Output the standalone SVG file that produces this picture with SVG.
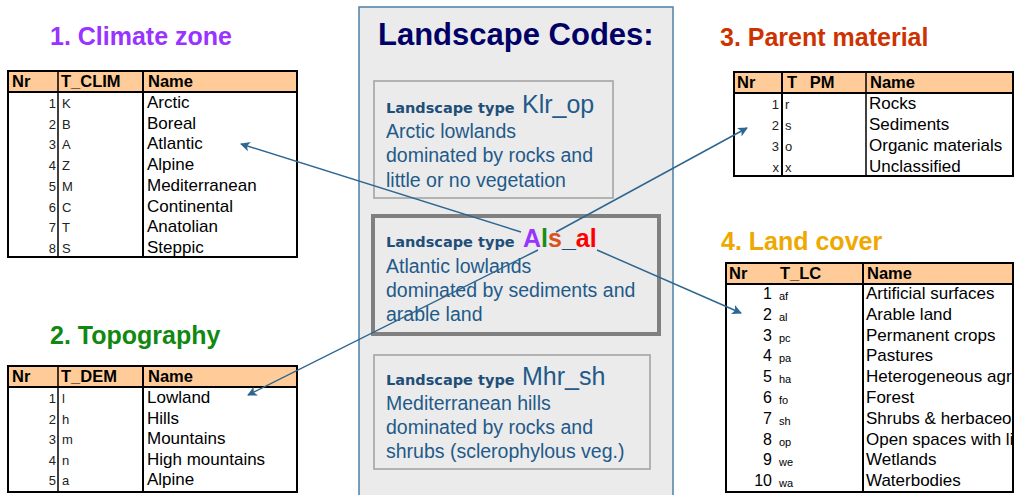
<svg xmlns="http://www.w3.org/2000/svg" width="1019" height="495" viewBox="0 0 1019 495">
<style>
.title{font-family:"Liberation Sans",Arial,sans-serif;font-weight:bold;font-size:25px}
.hdr{font-family:"Liberation Sans",Arial,sans-serif;font-weight:bold;font-size:16.5px;fill:#000}
.nm{font-family:"Liberation Sans",Arial,sans-serif;font-size:17px;fill:#000}
.sm{font-family:"Liberation Sans",Arial,sans-serif;font-size:13px;fill:#222}
.num{font-family:"Liberation Sans",Arial,sans-serif;font-size:13px;fill:#222;text-anchor:end}
.lnum{font-family:"Liberation Sans",Arial,sans-serif;font-size:16px;fill:#000;text-anchor:end}
.lcode{font-family:"Liberation Sans",Arial,sans-serif;font-size:11px;fill:#000}
.hfill{fill:#FFCC99}
.thick{stroke:#000;stroke-width:2;fill:none}
.thin{stroke:#000;stroke-width:1;fill:none}
.lt{font-family:"DejaVu Sans",Verdana,sans-serif;font-weight:bold;font-size:14.5px;fill:#1F4E79}
.code{font-family:"Liberation Sans",Arial,sans-serif;font-size:25px;fill:#1F5A8A}
.body{font-family:"Liberation Sans",Arial,sans-serif;font-size:19.5px;fill:#1F5A8A}
.box{fill:#EBEBEB;stroke:#A0A0A0;stroke-width:1.5}
.conn{stroke:#2D6690;stroke-width:1.5;fill:none;marker-end:url(#ah)}
</style>
<defs>
<marker id="ah" viewBox="0 0 10 10" refX="9" refY="5" markerWidth="6.5" markerHeight="6.5" orient="auto" markerUnits="strokeWidth">
<path d="M0,0 L10,5 L0,10 L2.5,5 Z" fill="#2D6690"/>
</marker>
<clipPath id="lcclip"><rect x="0" y="0" width="1014" height="495"/></clipPath>
</defs>
<rect width="1019" height="495" fill="#FFFFFF"/>

<g id="panel">
<rect x="359" y="7" width="314" height="500" fill="#EBEBEB" stroke="#4F80A6" stroke-width="1.5"/>
<text x="378" y="45" font-family="Liberation Sans,Arial,sans-serif" font-weight="bold" font-size="31" fill="#000066">Landscape Codes:</text>
</g>

<g id="box-klr">
<rect class="box" x="374" y="81" width="239" height="117"/>
<text class="lt" x="386" y="113">Landscape type</text>
<text class="code" x="522" y="113">Klr_op</text>
<text class="body" x="386" y="138">Arctic lowlands</text>
<text class="body" x="386" y="162">dominated by rocks and</text>
<text class="body" x="386" y="187">little or no vegetation</text>
</g>

<g id="box-als">
<rect x="373" y="216" width="286" height="118" fill="#EBEBEB" stroke="#808080" stroke-width="4"/>
<text class="lt" x="386" y="247">Landscape type</text>
<text x="523" y="247" font-family="Liberation Sans,Arial,sans-serif" font-weight="bold" font-size="25"><tspan fill="#9933FF">A</tspan><tspan fill="#1A8C1A">l</tspan><tspan fill="#D9531E">s</tspan><tspan fill="#1F4E79">_</tspan><tspan fill="#FF0000">al</tspan></text>
<text class="body" x="386" y="273">Atlantic lowlands</text>
<text class="body" x="386" y="297">dominated by sediments and</text>
<text class="body" x="386" y="321">arable land</text>
</g>

<g id="box-mhr">
<rect class="box" x="374" y="355" width="276" height="114"/>
<text class="lt" x="386" y="385">Landscape type</text>
<text class="code" x="522" y="385">Mhr_sh</text>
<text class="body" x="386" y="410">Mediterranean hills</text>
<text class="body" x="386" y="434">dominated by rocks and</text>
<text class="body" x="386" y="458">shrubs (sclerophylous veg.)</text>
</g>

<g id="climate">
<text class="title" x="50" y="45" fill="#9933FF">1. Climate zone</text>
<rect class="hfill" x="8" y="71" width="289" height="21"/>
<line class="thin" x1="297" y1="70" x2="297" y2="257"/>
<rect class="thick" x="8" y="71" width="289" height="186"/>
<line class="thick" x1="8" y1="92" x2="297" y2="92"/>
<line x1="58" y1="71" x2="58" y2="257" stroke="#000" stroke-width="1.5"/>
<line class="thick" x1="143" y1="71" x2="143" y2="257"/>
<text class="hdr" x="12" y="87">Nr</text>
<text class="hdr" x="61" y="87">T_CLIM</text>
<text class="hdr" x="148" y="87">Name</text>
<text class="num" x="56" y="108">1</text><text class="sm" x="62" y="108">K</text><text class="nm" x="147" y="108">Arctic</text>
<text class="num" x="56" y="128.7">2</text><text class="sm" x="62" y="128.7">B</text><text class="nm" x="147" y="128.7">Boreal</text>
<text class="num" x="56" y="149.4">3</text><text class="sm" x="62" y="149.4">A</text><text class="nm" x="147" y="149.4">Atlantic</text>
<text class="num" x="56" y="170.1">4</text><text class="sm" x="62" y="170.1">Z</text><text class="nm" x="147" y="170.1">Alpine</text>
<text class="num" x="56" y="190.8">5</text><text class="sm" x="62" y="190.8">M</text><text class="nm" x="147" y="190.8">Mediterranean</text>
<text class="num" x="56" y="211.5">6</text><text class="sm" x="62" y="211.5">C</text><text class="nm" x="147" y="211.5">Continental</text>
<text class="num" x="56" y="232.2">7</text><text class="sm" x="62" y="232.2">T</text><text class="nm" x="147" y="232.2">Anatolian</text>
<text class="num" x="56" y="252.9">8</text><text class="sm" x="62" y="252.9">S</text><text class="nm" x="147" y="252.9">Steppic</text>
</g>

<g id="topography">
<text class="title" x="50" y="344" fill="#118811">2. Topography</text>
<rect class="hfill" x="8" y="366" width="289" height="21"/>
<rect class="thick" x="8" y="366" width="289" height="126"/>
<line class="thick" x1="8" y1="387" x2="297" y2="387"/>
<line x1="58" y1="366" x2="58" y2="492" stroke="#000" stroke-width="1.5"/>
<line class="thick" x1="143" y1="366" x2="143" y2="492"/>
<text class="hdr" x="12" y="382">Nr</text>
<text class="hdr" x="61" y="382">T_DEM</text>
<text class="hdr" x="148" y="382">Name</text>
<text class="num" x="56" y="403">1</text><text class="sm" x="62" y="403">l</text><text class="nm" x="147" y="403">Lowland</text>
<text class="num" x="56" y="423.5">2</text><text class="sm" x="62" y="423.5">h</text><text class="nm" x="147" y="423.5">Hills</text>
<text class="num" x="56" y="444">3</text><text class="sm" x="62" y="444">m</text><text class="nm" x="147" y="444">Mountains</text>
<text class="num" x="56" y="464.5">4</text><text class="sm" x="62" y="464.5">n</text><text class="nm" x="147" y="464.5">High mountains</text>
<text class="num" x="56" y="485">5</text><text class="sm" x="62" y="485">a</text><text class="nm" x="147" y="485">Alpine</text>
</g>

<g id="parent-material">
<text class="title" x="720" y="46" fill="#CC3300">3. Parent material</text>
<rect class="hfill" x="734" y="72" width="279" height="21"/>
<rect class="thick" x="734" y="72" width="279" height="104"/>
<line class="thick" x1="734" y1="93" x2="1013" y2="93"/>
<line class="thick" x1="782" y1="72" x2="782" y2="176"/>
<line x1="866" y1="72" x2="866" y2="176" stroke="#000" stroke-width="1.5"/>
<text class="hdr" x="737" y="88">Nr</text>
<text class="hdr" x="787" y="88" word-spacing="8">T PM</text>
<text class="hdr" x="870" y="88">Name</text>
<text class="num" x="779" y="109">1</text><text class="sm" x="785" y="109">r</text><text class="nm" x="869" y="109">Rocks</text>
<text class="num" x="779" y="130">2</text><text class="sm" x="785" y="130">s</text><text class="nm" x="869" y="130">Sediments</text>
<text class="num" x="779" y="151">3</text><text class="sm" x="785" y="151">o</text><text class="nm" x="869" y="151">Organic materials</text>
<text class="num" x="779" y="172">x</text><text class="sm" x="785" y="172">x</text><text class="nm" x="869" y="172">Unclassified</text>
</g>

<g id="land-cover">
<text class="title" x="721" y="250" fill="#EEA800">4. Land cover</text>
<rect class="hfill" x="726" y="263" width="287" height="21"/>
<rect class="thick" x="726" y="263" width="287" height="229"/>
<line class="thick" x1="726" y1="284" x2="1013" y2="284"/>
<line class="thick" x1="863" y1="263" x2="863" y2="492"/>
<text class="hdr" x="729" y="279">Nr</text>
<text class="hdr" x="780" y="279">T_LC</text>
<text class="hdr" x="867" y="279">Name</text>
<g clip-path="url(#lcclip)">
<text class="lnum" x="772" y="299">1</text><text class="lcode" x="779" y="300">af</text><text class="nm" x="866" y="299">Artificial surfaces</text>
<text class="lnum" x="772" y="319.8">2</text><text class="lcode" x="779" y="320.8">al</text><text class="nm" x="866" y="319.8">Arable land</text>
<text class="lnum" x="772" y="340.6">3</text><text class="lcode" x="779" y="341.6">pc</text><text class="nm" x="866" y="340.6">Permanent crops</text>
<text class="lnum" x="772" y="361.4">4</text><text class="lcode" x="779" y="362.4">pa</text><text class="nm" x="866" y="361.4">Pastures</text>
<text class="lnum" x="772" y="382.2">5</text><text class="lcode" x="779" y="383.2">ha</text><text class="nm" x="866" y="382.2">Heterogeneous agri</text>
<text class="lnum" x="772" y="403">6</text><text class="lcode" x="779" y="404">fo</text><text class="nm" x="866" y="403">Forest</text>
<text class="lnum" x="772" y="423.8">7</text><text class="lcode" x="779" y="424.8">sh</text><text class="nm" x="866" y="423.8">Shrubs &amp; herbaceou</text>
<text class="lnum" x="772" y="444.6">8</text><text class="lcode" x="779" y="445.6">op</text><text class="nm" x="866" y="444.6">Open spaces with li</text>
<text class="lnum" x="772" y="465.4">9</text><text class="lcode" x="779" y="466.4">we</text><text class="nm" x="866" y="465.4">Wetlands</text>
<text class="lnum" x="772" y="486.2">10</text><text class="lcode" x="779" y="487.2">wa</text><text class="nm" x="866" y="486.2">Waterbodies</text>
</g>
</g>

<g id="connectors">
<line class="conn" x1="521" y1="232" x2="241" y2="144"/>
<line class="conn" x1="538" y1="250" x2="248" y2="395"/>
<line class="conn" x1="556" y1="232" x2="747" y2="128"/>
<line class="conn" x1="597" y1="250" x2="741" y2="313"/>
</g>
</svg>
